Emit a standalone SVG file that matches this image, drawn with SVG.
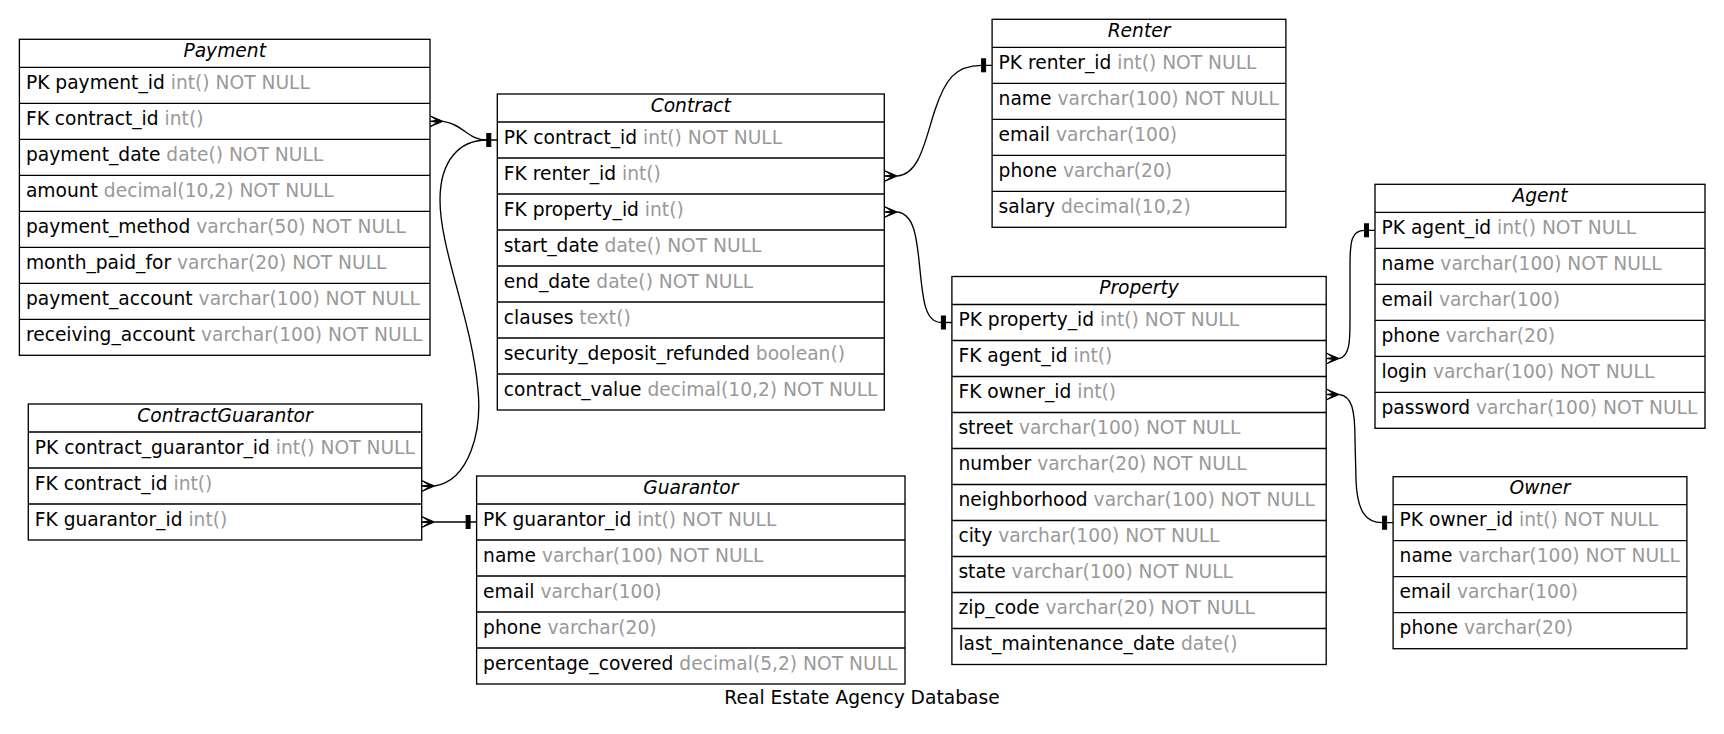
<svg xmlns="http://www.w3.org/2000/svg" xmlns:xlink="http://www.w3.org/1999/xlink" width="1724" height="734" viewBox="0 0 1724 734">
<style>
.box{fill:none;stroke:#000;stroke-width:1.33}
.ln{stroke:#000;stroke-width:1.33}
text{font-family:"DejaVu Sans","Liberation Sans",sans-serif;font-size:18.67px;fill:#000}
.hd{font-style:italic;text-anchor:middle}
.t{fill:#999999}
.edge{fill:none;stroke:#000;stroke-width:1.33}
.mark{fill:#000;stroke:#000;stroke-width:1}
</style>
<defs>
<path id="crow" d="M13,0 L0,-5.5 L7,-1 L0,0 L7,1 L0,5.5 Z"/>
<rect id="tee" x="0" y="-6.5" width="4" height="13"/>
</defs>
<rect x="0" y="0" width="1724" height="734" fill="#fff"/>

<g id="Payment" transform="translate(19.4,39.3)">
<rect class="box" x="0" y="0" width="410.6" height="316"/>
<path class="ln" d="M0,28H410.6M0,64H410.6M0,100H410.6M0,136H410.6M0,172H410.6M0,208H410.6M0,244H410.6M0,280H410.6"/>
<text class="hd" x="205.3" y="17.5">Payment</text>
<text x="6.5" y="49.5">PK payment_id <tspan class="t">int() NOT NULL</tspan></text>
<text x="6.5" y="85.5">FK contract_id <tspan class="t">int()</tspan></text>
<text x="6.5" y="121.5">payment_date <tspan class="t">date() NOT NULL</tspan></text>
<text x="6.5" y="157.5">amount <tspan class="t">decimal(10,2) NOT NULL</tspan></text>
<text x="6.5" y="193.5">payment_method <tspan class="t">varchar(50) NOT NULL</tspan></text>
<text x="6.5" y="229.5">month_paid_for <tspan class="t">varchar(20) NOT NULL</tspan></text>
<text x="6.5" y="265.5">payment_account <tspan class="t">varchar(100) NOT NULL</tspan></text>
<text x="6.5" y="301.5">receiving_account <tspan class="t">varchar(100) NOT NULL</tspan></text>
</g>

<g id="ContractGuarantor" transform="translate(28.3,404)">
<rect class="box" x="0" y="0" width="393.4" height="136"/>
<path class="ln" d="M0,28H393.4M0,64H393.4M0,100H393.4"/>
<text class="hd" x="196.7" y="17.5">ContractGuarantor</text>
<text x="6.5" y="49.5">PK contract_guarantor_id <tspan class="t">int() NOT NULL</tspan></text>
<text x="6.5" y="85.5">FK contract_id <tspan class="t">int()</tspan></text>
<text x="6.5" y="121.5">FK guarantor_id <tspan class="t">int()</tspan></text>
</g>

<g id="Contract" transform="translate(497.3,94)">
<rect class="box" x="0" y="0" width="387" height="316"/>
<path class="ln" d="M0,28H387M0,64H387M0,100H387M0,136H387M0,172H387M0,208H387M0,244H387M0,280H387"/>
<text class="hd" x="193.5" y="17.5">Contract</text>
<text x="6.5" y="49.5">PK contract_id <tspan class="t">int() NOT NULL</tspan></text>
<text x="6.5" y="85.5">FK renter_id <tspan class="t">int()</tspan></text>
<text x="6.5" y="121.5">FK property_id <tspan class="t">int()</tspan></text>
<text x="6.5" y="157.5">start_date <tspan class="t">date() NOT NULL</tspan></text>
<text x="6.5" y="193.5">end_date <tspan class="t">date() NOT NULL</tspan></text>
<text x="6.5" y="229.5">clauses <tspan class="t">text()</tspan></text>
<text x="6.5" y="265.5">security_deposit_refunded <tspan class="t">boolean()</tspan></text>
<text x="6.5" y="301.5">contract_value <tspan class="t">decimal(10,2) NOT NULL</tspan></text>
</g>

<g id="Guarantor" transform="translate(476.6,476)">
<rect class="box" x="0" y="0" width="428.4" height="208"/>
<path class="ln" d="M0,28H428.4M0,64H428.4M0,100H428.4M0,136H428.4M0,172H428.4"/>
<text class="hd" x="214.2" y="17.5">Guarantor</text>
<text x="6.5" y="49.5">PK guarantor_id <tspan class="t">int() NOT NULL</tspan></text>
<text x="6.5" y="85.5">name <tspan class="t">varchar(100) NOT NULL</tspan></text>
<text x="6.5" y="121.5">email <tspan class="t">varchar(100)</tspan></text>
<text x="6.5" y="157.5">phone <tspan class="t">varchar(20)</tspan></text>
<text x="6.5" y="193.5">percentage_covered <tspan class="t">decimal(5,2) NOT NULL</tspan></text>
</g>

<g id="Renter" transform="translate(992.1,19.3)">
<rect class="box" x="0" y="0" width="293.8" height="208"/>
<path class="ln" d="M0,28H293.8M0,64H293.8M0,100H293.8M0,136H293.8M0,172H293.8"/>
<text class="hd" x="146.9" y="17.5">Renter</text>
<text x="6.5" y="49.5">PK renter_id <tspan class="t">int() NOT NULL</tspan></text>
<text x="6.5" y="85.5">name <tspan class="t">varchar(100) NOT NULL</tspan></text>
<text x="6.5" y="121.5">email <tspan class="t">varchar(100)</tspan></text>
<text x="6.5" y="157.5">phone <tspan class="t">varchar(20)</tspan></text>
<text x="6.5" y="193.5">salary <tspan class="t">decimal(10,2)</tspan></text>
</g>

<g id="Property" transform="translate(951.9,276.5)">
<rect class="box" x="0" y="0" width="374.3" height="388"/>
<path class="ln" d="M0,28H374.3M0,64H374.3M0,100H374.3M0,136H374.3M0,172H374.3M0,208H374.3M0,244H374.3M0,280H374.3M0,316H374.3M0,352H374.3"/>
<text class="hd" x="187.15" y="17.5">Property</text>
<text x="6.5" y="49.5">PK property_id <tspan class="t">int() NOT NULL</tspan></text>
<text x="6.5" y="85.5">FK agent_id <tspan class="t">int()</tspan></text>
<text x="6.5" y="121.5">FK owner_id <tspan class="t">int()</tspan></text>
<text x="6.5" y="157.5">street <tspan class="t">varchar(100) NOT NULL</tspan></text>
<text x="6.5" y="193.5">number <tspan class="t">varchar(20) NOT NULL</tspan></text>
<text x="6.5" y="229.5">neighborhood <tspan class="t">varchar(100) NOT NULL</tspan></text>
<text x="6.5" y="265.5">city <tspan class="t">varchar(100) NOT NULL</tspan></text>
<text x="6.5" y="301.5">state <tspan class="t">varchar(100) NOT NULL</tspan></text>
<text x="6.5" y="337.5">zip_code <tspan class="t">varchar(20) NOT NULL</tspan></text>
<text x="6.5" y="373.5">last_maintenance_date <tspan class="t">date()</tspan></text>
</g>

<g id="Agent" transform="translate(1375,184.3)">
<rect class="box" x="0" y="0" width="330" height="244"/>
<path class="ln" d="M0,28H330M0,64H330M0,100H330M0,136H330M0,172H330M0,208H330"/>
<text class="hd" x="165" y="17.5">Agent</text>
<text x="6.5" y="49.5">PK agent_id <tspan class="t">int() NOT NULL</tspan></text>
<text x="6.5" y="85.5">name <tspan class="t">varchar(100) NOT NULL</tspan></text>
<text x="6.5" y="121.5">email <tspan class="t">varchar(100)</tspan></text>
<text x="6.5" y="157.5">phone <tspan class="t">varchar(20)</tspan></text>
<text x="6.5" y="193.5">login <tspan class="t">varchar(100) NOT NULL</tspan></text>
<text x="6.5" y="229.5">password <tspan class="t">varchar(100) NOT NULL</tspan></text>
</g>

<g id="Owner" transform="translate(1393.1,476.7)">
<rect class="box" x="0" y="0" width="293.8" height="172"/>
<path class="ln" d="M0,28H293.8M0,64H293.8M0,100H293.8M0,136H293.8"/>
<text class="hd" x="146.9" y="17.5">Owner</text>
<text x="6.5" y="49.5">PK owner_id <tspan class="t">int() NOT NULL</tspan></text>
<text x="6.5" y="85.5">name <tspan class="t">varchar(100) NOT NULL</tspan></text>
<text x="6.5" y="121.5">email <tspan class="t">varchar(100)</tspan></text>
<text x="6.5" y="157.5">phone <tspan class="t">varchar(20)</tspan></text>
</g>

<g id="connectors">
<path class="edge" d="M443,121.3 C463,124 468,140 486.8,140 L497.3,140"/>
<use href="#crow" xlink:href="#crow" class="mark" x="430" y="121.3"/>
<use href="#tee" xlink:href="#tee" class="mark" x="486.8" y="140"/>

<path class="edge" d="M434.7,486 C470,480 482,430 478,390 C472,320 440,250 440,200 C440,160 460,140 486.8,140"/>
<use href="#crow" xlink:href="#crow" class="mark" x="421.7" y="486"/>

<path class="edge" d="M434.7,522 L476.6,522"/>
<use href="#crow" xlink:href="#crow" class="mark" x="421.7" y="522"/>
<use href="#tee" xlink:href="#tee" class="mark" x="466.1" y="522"/>

<path class="edge" d="M897.3,176 C920,174 925,140 935,110 C945,80 955,65.3 981.6,65.3 L992.1,65.3"/>
<use href="#crow" xlink:href="#crow" class="mark" x="884.3" y="176"/>
<use href="#tee" xlink:href="#tee" class="mark" x="981.6" y="65.3"/>

<path class="edge" d="M897.3,212 C915,214 917,240 920,270 C923,300 925,322.5 941.4,322.5 L951.9,322.5"/>
<use href="#crow" xlink:href="#crow" class="mark" x="884.3" y="212"/>
<use href="#tee" xlink:href="#tee" class="mark" x="941.4" y="322.5"/>

<path class="edge" d="M1339.2,358.5 C1350,356 1350,340 1350,320 L1350,265 C1350,240 1352,230.3 1364.5,230.3 L1375,230.3"/>
<use href="#crow" xlink:href="#crow" class="mark" x="1326.2" y="358.5"/>
<use href="#tee" xlink:href="#tee" class="mark" x="1364.5" y="230.3"/>

<path class="edge" d="M1339.2,394.5 C1352,396 1355,410 1355,440 L1356,480 C1357,510 1365,522.7 1382.6,522.7 L1393.1,522.7"/>
<use href="#crow" xlink:href="#crow" class="mark" x="1326.2" y="394.5"/>
<use href="#tee" xlink:href="#tee" class="mark" x="1382.6" y="522.7"/>
</g>

<text id="caption" x="862" y="704" text-anchor="middle">Real Estate Agency Database</text>
</svg>
